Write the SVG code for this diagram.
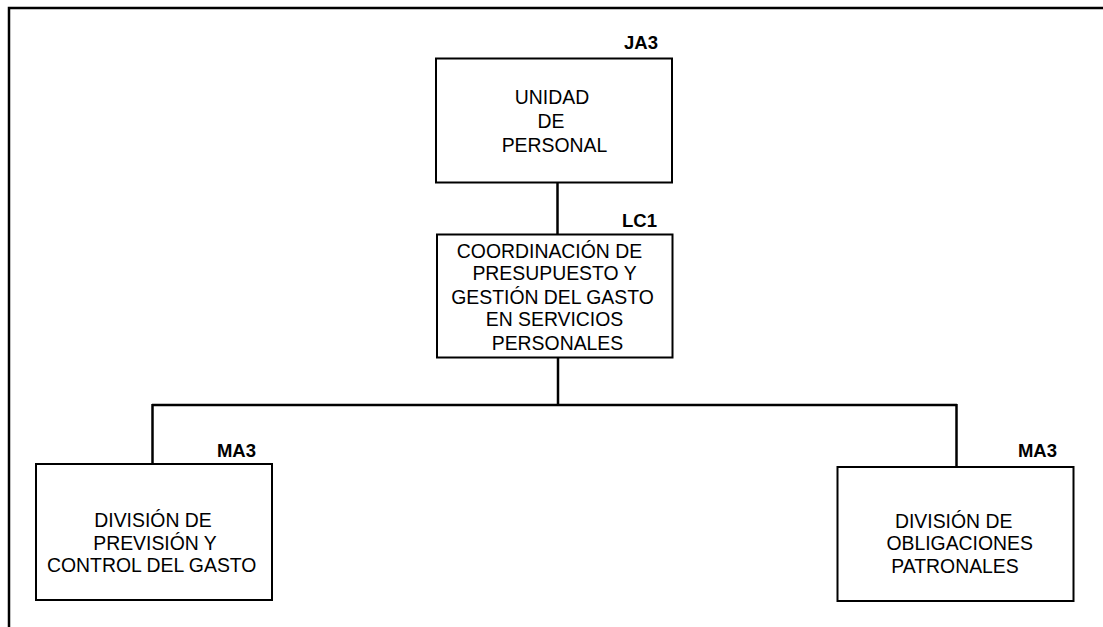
<svg xmlns="http://www.w3.org/2000/svg" width="1103" height="627" viewBox="0 0 1103 627">
<style>
.box{fill:#fff;stroke:#000;stroke-width:2}
.ln{stroke:#000;stroke-width:2.5;fill:none}
.t{font-family:"Liberation Sans",Arial,sans-serif;font-size:19.4px;fill:#000;text-anchor:middle}
.lb{font-family:"Liberation Sans",Arial,sans-serif;font-size:18.5px;font-weight:bold;fill:#000;text-anchor:end}
</style>
<rect width="1103" height="627" fill="#fff"/>
<g id="frame">
<path d="M9 627 V8 H1103" class="ln" stroke-width="2"/>
</g>
<g id="connectors">
<line x1="557.5" y1="183" x2="557.5" y2="234" class="ln"/>
<line x1="558" y1="358" x2="558" y2="405" class="ln"/>
<line x1="152" y1="405" x2="957" y2="405" class="ln"/>
<line x1="152.5" y1="404" x2="152.5" y2="464" class="ln"/>
<line x1="956.5" y1="404" x2="956.5" y2="467" class="ln"/>
</g>
<g id="unidad">
<rect x="436" y="58.5" width="236" height="124" class="box"/>
<text class="lb" x="658" y="48.5">JA3</text>
<text class="t" x="552" y="103.5">UNIDAD</text>
<text class="t" x="551" y="128">DE</text>
<text class="t" x="554.5" y="152">PERSONAL</text>
</g>
<g id="coordinacion">
<rect x="437" y="234.5" width="235.5" height="123" class="box"/>
<text class="lb" x="657" y="227">LC1</text>
<text class="t" x="549.5" y="257.5">COORDINACIÓN DE</text>
<text class="t" x="554.5" y="279.5">PRESUPUESTO Y</text>
<text class="t" x="552.5" y="303.5">GESTIÓN DEL GASTO</text>
<text class="t" x="554.5" y="326">EN SERVICIOS</text>
<text class="t" x="557.5" y="350">PERSONALES</text>
</g>
<g id="prevision">
<rect x="36" y="464" width="236" height="136" class="box"/>
<text class="lb" x="256" y="457">MA3</text>
<text class="t" x="153" y="526.5">DIVISIÓN DE</text>
<text class="t" x="155" y="550">PREVISIÓN Y</text>
<text class="t" x="151.7" y="572">CONTROL DEL GASTO</text>
</g>
<g id="obligaciones">
<rect x="837.5" y="467" width="236" height="134" class="box"/>
<text class="lb" x="1057" y="456.5">MA3</text>
<text class="t" x="953.7" y="527.5">DIVISIÓN DE</text>
<text class="t" x="959.7" y="549.5">OBLIGACIONES</text>
<text class="t" x="955" y="572.5">PATRONALES</text>
</g>
</svg>
